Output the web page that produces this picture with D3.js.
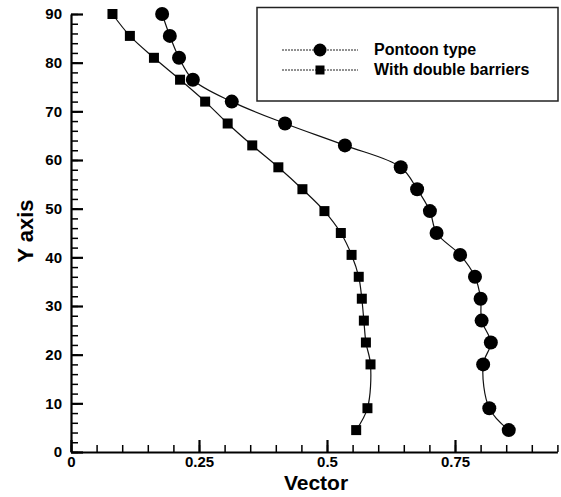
<!DOCTYPE html>
<html>
<head>
<meta charset="utf-8">
<script src="https://cdn.jsdelivr.net/npm/d3@7"></script>
<style>
  html, body { margin: 0; padding: 0; background: #fff; }
  svg { display: block; font-family: Arial, "Liberation Sans", Helvetica, sans-serif; }
</style>
</head>
<body>
<svg id="chart" width="561" height="497"></svg>
<script>
// Sampling heights (Y axis) shared by both profiles
const heights = [90, 85.5, 81, 76.5, 72, 67.5, 63, 58.5, 54, 49.5, 45, 40.5, 36, 31.5, 27, 22.5, 18, 9, 4.5];
// Vector magnitude, pontoon-type breakwater
const pontoon = [0.178, 0.193, 0.211, 0.238, 0.314, 0.418, 0.535, 0.644, 0.676, 0.701, 0.714, 0.760, 0.789, 0.800, 0.802, 0.820, 0.805, 0.817, 0.855];
// Vector magnitude, breakwater with double barriers
const doubleBarriers = [0.081, 0.115, 0.162, 0.213, 0.262, 0.306, 0.354, 0.405, 0.452, 0.495, 0.527, 0.548, 0.562, 0.568, 0.572, 0.576, 0.585, 0.579, 0.557];

const seriesNames = ["Pontoon type", "With double barriers"];
const xTickValues = [0, 0.25, 0.5, 0.75];
const xTickLabels = ["0", "0.25", "0.5", "0.75"];
const yTickValues = [0, 10, 20, 30, 40, 50, 60, 70, 80, 90];

const svg = d3.select("#chart");
const x = d3.scaleLinear().domain([0, 0.95]).range([71, 557.4]);
const y = d3.scaleLinear().domain([0, 90]).range([452, 14]);

// Minor ticks (inward)
svg.append("g")
  .attr("transform", `translate(${x(0)},0)`)
  .call(d3.axisLeft(y).tickValues(d3.range(0, 91, 2)).tickSizeInner(-7).tickSizeOuter(0).tickFormat(""))
  .call(g => g.select(".domain").remove())
  .call(g => g.selectAll("line").attr("stroke", "#000").attr("stroke-width", 1.5));
svg.append("g")
  .attr("transform", `translate(0,${y(0)})`)
  .call(d3.axisBottom(x).tickValues(d3.range(0, 0.951, 0.05)).tickSizeInner(-7).tickSizeOuter(0).tickFormat(""))
  .call(g => g.select(".domain").remove())
  .call(g => g.selectAll("line").attr("stroke", "#000").attr("stroke-width", 1.5));

// Major axes
const yAxis = svg.append("g")
  .attr("transform", `translate(${x(0)},0)`)
  .call(d3.axisLeft(y).tickValues(yTickValues).tickSizeInner(-12).tickSizeOuter(0).tickPadding(9));
const xAxis = svg.append("g")
  .attr("transform", `translate(0,${y(0)})`)
  .call(d3.axisBottom(x).tickValues(xTickValues).tickSizeInner(-12).tickSizeOuter(0).tickPadding(4)
    .tickFormat((d, i) => xTickLabels[i]));

[yAxis, xAxis].forEach(g => {
  g.select(".domain").attr("stroke", "#000").attr("stroke-width", 2.2);
  g.selectAll(".tick line").attr("stroke", "#000").attr("stroke-width", 2.2);
  g.selectAll(".tick text").attr("fill", "#000").attr("font-size", 15).attr("font-weight", "bold")
    .attr("font-family", "Arial, 'Liberation Sans', sans-serif");
});

// Axis titles
svg.append("text")
  .attr("transform", "translate(33,231) rotate(-90)")
  .attr("text-anchor", "middle")
  .attr("font-size", 22).attr("font-weight", "bold")
  .text("Y axis");
svg.append("text")
  .attr("x", 316).attr("y", 490)
  .attr("text-anchor", "middle")
  .attr("font-size", 21).attr("font-weight", "bold")
  .text("Vector");

// Profiles
const line = d3.line()
  .x(d => x(d[0])).y(d => y(d[1]))
  .curve(d3.curveCatmullRom.alpha(0.5));

const ptsP = pontoon.map((v, i) => [v, heights[i]]);
const ptsD = doubleBarriers.map((v, i) => [v, heights[i]]);

svg.append("path").attr("d", line(ptsP)).attr("fill", "none").attr("stroke", "#111").attr("stroke-width", 1.2);
svg.append("path").attr("d", line(ptsD)).attr("fill", "none").attr("stroke", "#111").attr("stroke-width", 1.2);

svg.append("g").selectAll("circle").data(ptsP).join("circle")
  .attr("cx", d => x(d[0])).attr("cy", d => y(d[1])).attr("r", 7).attr("fill", "#000");
const sq = 10;
svg.append("g").selectAll("rect").data(ptsD).join("rect")
  .attr("x", d => x(d[0]) - sq / 2).attr("y", d => y(d[1]) - sq / 2)
  .attr("width", sq).attr("height", sq).attr("fill", "#000");

// Legend
const legend = svg.append("g");
legend.append("rect")
  .attr("x", 257).attr("y", 7.5).attr("width", 301).attr("height", 93.5)
  .attr("fill", "#fff").attr("stroke", "#222").attr("stroke-width", 1.5);
const rowsY = [50, 70];
seriesNames.forEach((name, i) => {
  const ly = rowsY[i];
  legend.append("line")
    .attr("x1", 282).attr("x2", 358).attr("y1", ly).attr("y2", ly)
    .attr("stroke", "#222").attr("stroke-width", 1).attr("stroke-dasharray", "2,1");
  if (i === 0) {
    legend.append("circle").attr("cx", 320).attr("cy", ly).attr("r", 6.5).attr("fill", "#000");
  } else {
    legend.append("rect").attr("x", 315.5).attr("y", ly - 4.5).attr("width", 9).attr("height", 9).attr("fill", "#000");
  }
  legend.append("text")
    .attr("x", 374).attr("y", ly + 5)
    .attr("font-size", 16).attr("font-weight", "bold")
    .text(name);
});
</script>
</body>
</html>
